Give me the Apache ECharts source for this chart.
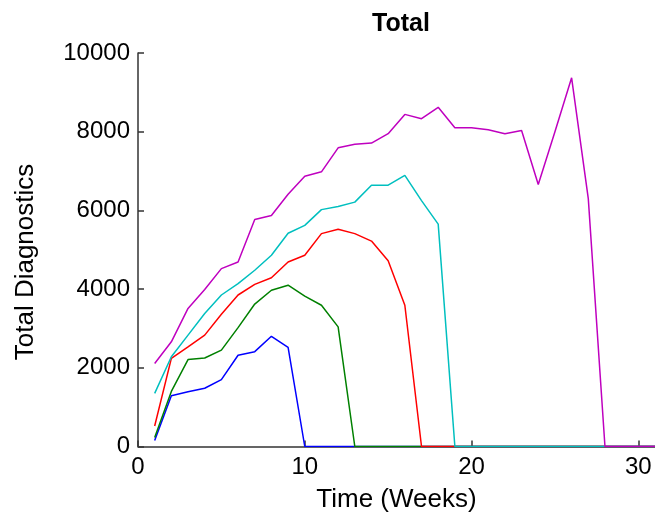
<!DOCTYPE html>
<html>
<head>
<meta charset="utf-8">
<script src="https://cdn.jsdelivr.net/npm/echarts@6/dist/echarts.min.js"></script>
<style>
html,body{margin:0;padding:0;background:#fff;}
#chart{width:655px;height:519px;}
</style>
</head>
<body>
<div id="chart"></div>
<script>
var weeks = [1,2,3,4,5,6,7,8,9,10,11,12,13,14,15,16,17,18,19,20,21,22,23,24,25,26,27,28,29,30,31];
var blueVals    = [150,1290,1390,1480,1700,2320,2410,2800,2520,0,0,0,0,0,0,0,0,0,0,0,0,0,0,0,0,0,0,0,0,0,0];
var greenVals   = [230,1400,2210,2250,2450,3020,3620,3970,4100,3820,3590,3040,0,0,0,0,0,0,0,0,0,0,0,0,0,0,0,0,0,0,0];
var redVals     = [520,2240,2530,2830,3360,3850,4120,4290,4690,4860,5410,5520,5410,5220,4720,3590,0,0,0,0,0,0,0,0,0,0,0,0,0,0,0];
var cyanVals    = [1350,2280,2830,3380,3850,4140,4480,4860,5420,5620,6020,6100,6210,6640,6640,6890,6250,5650,0,0,0,0,0,0,0,0,0,0,0,0,0];
var magentaVals = [2110,2660,3510,3990,4520,4690,5770,5870,6410,6870,6980,7590,7680,7710,7950,8440,8330,8620,8100,8100,8050,7950,8030,6660,8000,9370,6300,0,0,0,0];
var seriesNames = ['s1','s2','s3','s4','s5'];
var seriesColors = ['#0000FF','#008000','#FF0000','#00BFBF','#BF00BF'];
var allVals = [blueVals, greenVals, redVals, cyanVals, magentaVals];
var titleText = 'Total';
var xName = 'Time (Weeks)';
var yName = 'Total Diagnostics';

var FONT = 'Arial, "Liberation Sans", Helvetica, sans-serif';

function pairs(vals){
  return weeks.map(function(w,i){ return [w, vals[i]]; });
}

var series = allVals.map(function(vals, k){
  return {
    name: seriesNames[k],
    type: 'line',
    data: pairs(vals),
    showSymbol: false,
    symbol: 'none',
    lineStyle: {color: seriesColors[k], width: 1.5},
    itemStyle: {color: seriesColors[k]},
    animation: false,
    z: 2 + k
  };
});

var chart = echarts.init(document.getElementById('chart'), null, {renderer:'canvas'});
chart.setOption({
  backgroundColor: '#fff',
  animation: false,
  title: {
    text: titleText,
    left: 396,
    top: 7,
    textAlign: 'center',
    textStyle: {fontFamily: FONT, fontWeight: 'bold', fontSize: 25, color: '#000'}
  },
  grid: {left: 138, right: 0, top: 53, bottom: 72.5, containLabel: false},
  xAxis: {
    type: 'value',
    min: 0, max: 31, interval: 10,
    name: xName,
    nameLocation: 'middle',
    nameGap: 40,
    nameTextStyle: {fontFamily: FONT, fontSize: 26, color: '#000'},
    axisLine: {show: true, onZero: false, lineStyle: {color: '#333', width: 1.5}},
    axisTick: {show: true, inside: true, length: 6, lineStyle: {color: '#333', width: 1.5}},
    axisLabel: {fontFamily: FONT, fontSize: 24, color: '#000', margin: 9,
      showMaxLabel: false},
    splitLine: {show: false}
  },
  yAxis: {
    type: 'value',
    min: 0, max: 10000, interval: 2000,
    axisLine: {show: true, lineStyle: {color: '#333', width: 1.5}},
    axisTick: {show: true, inside: true, length: 6, lineStyle: {color: '#333', width: 1.5}},
    axisLabel: {fontFamily: FONT, fontSize: 24, color: '#000', margin: 8,
      formatter: function(v){ return String(v); }},
    splitLine: {show: false}
  },
  graphic: [{
    type: 'text',
    x: 26, y: 262,
    rotation: Math.PI/2,
    style: {text: yName, textAlign: 'center', textVerticalAlign: 'middle',
      font: '26px ' + FONT, fill: '#000'}
  }],
  series: series
});
</script>
</body>
</html>
